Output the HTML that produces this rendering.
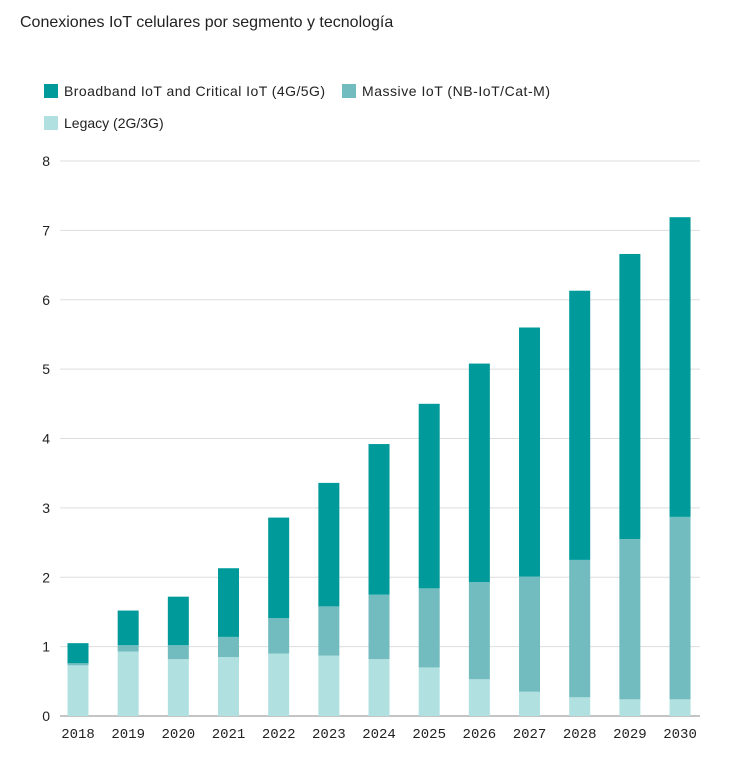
<!DOCTYPE html>
<html><head><meta charset="utf-8"><style>
body{margin:0;background:#fff;width:732px;height:762px;overflow:hidden;font-family:"Liberation Sans",sans-serif;}
</style></head><body>
<svg width="732" height="762" xmlns="http://www.w3.org/2000/svg">
<text x="20" y="27" font-size="16" fill="#222">Conexiones IoT celulares por segmento y tecnología</text>
<g font-size="14" fill="#222">
<rect x="44" y="84" width="14" height="14" fill="#009a9a"/>
<text x="64" y="96" textLength="261">Broadband IoT and Critical IoT (4G/5G)</text>
<rect x="342" y="84" width="14" height="14" fill="#72bcbf"/>
<text x="362" y="96" textLength="188">Massive IoT (NB-IoT/Cat-M)</text>
<rect x="44" y="116" width="14" height="14" fill="#b0e0e0"/>
<text x="64" y="128">Legacy (2G/3G)</text>
</g>
<g id="grid"></g><g id="bars"></g><g id="axes"></g>
</svg>
<script>
const years=["2018","2019","2020","2021","2022","2023","2024","2025","2026","2027","2028","2029","2030"];
const legacy=[0.73,0.93,0.82,0.85,0.9,0.87,0.82,0.7,0.53,0.35,0.27,0.24,0.24];
const massive=[0.03,0.09,0.2,0.29,0.51,0.71,0.93,1.14,1.4,1.66,1.98,2.31,2.63];
const broadband=[0.29,0.5,0.7,0.99,1.45,1.78,2.17,2.66,3.15,3.59,3.88,4.11,4.32];
const yTicks=[0,1,2,3,4,5,6,7,8];
const NS="http://www.w3.org/2000/svg";
const y0=716,y8=161,x0=78,dx=50.17,bw=21;
const yS=v=>y0-(y0-y8)*v/8;
const xS=i=>x0+dx*i;
const grid=document.getElementById('grid'),bars=document.getElementById('bars'),axes=document.getElementById('axes');
yTicks.forEach(t=>{
 const l=document.createElementNS(NS,'line');
 l.setAttribute('x1',60);l.setAttribute('x2',700);l.setAttribute('y1',yS(t));l.setAttribute('y2',yS(t));
 l.setAttribute('stroke',t===0?'#888':'#ddd');l.setAttribute('stroke-width',1);
 
 
 grid.appendChild(l);
 const tx=document.createElementNS(NS,'text');
 tx.setAttribute('x',50);tx.setAttribute('y',yS(t)+5);tx.setAttribute('text-anchor','end');tx.setAttribute('font-size','14');tx.setAttribute('fill','#222');
 tx.textContent=t;
 
 
 axes.appendChild(tx);
});
const series=[[legacy,'#b0e0e0','legacy'],[massive,'#72bcbf','massive'],[broadband,'#009a9a','broadband']];
years.forEach((yr,i)=>{
 let base=0;
 series.forEach(([arr,c,n])=>{
  const r=document.createElementNS(NS,'rect');
  r.setAttribute('x',xS(i)-bw/2);r.setAttribute('width',bw);
  r.setAttribute('y',yS(base+arr[i]));r.setAttribute('height',yS(base)-yS(base+arr[i]));
  r.setAttribute('fill',c);
  
  
  bars.appendChild(r);
  base+=arr[i];
 });
 const tx=document.createElementNS(NS,'text');
 tx.setAttribute('x',xS(i));tx.setAttribute('y',738);tx.setAttribute('text-anchor','middle');tx.setAttribute('font-size','14');tx.setAttribute('fill','#222');
 tx.setAttribute('font-family','"Liberation Mono", monospace');
 tx.textContent=yr;
 
 
 axes.appendChild(tx);
});
</script>
</body></html>
